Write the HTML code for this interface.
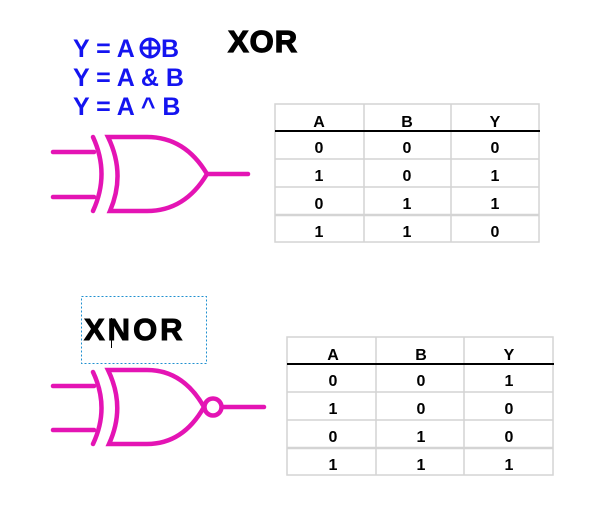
<!DOCTYPE html>
<html><head><meta charset="utf-8"><style>
html,body{margin:0;padding:0;background:#fff;}
svg{display:block;}
text{font-family:"Liberation Sans",Arial,sans-serif;}
</style></head><body>
<svg width="611" height="513" viewBox="0 0 611 513" xmlns="http://www.w3.org/2000/svg">
<g fill="#1414f0" font-weight="bold" font-size="25">
<text x="73" y="57">Y = A</text>
<circle cx="150" cy="48" r="9" fill="none" stroke="#1414f0" stroke-width="3"/>
<line x1="142" y1="48" x2="158" y2="48" stroke="#1414f0" stroke-width="3"/>
<line x1="150" y1="40" x2="150" y2="56" stroke="#1414f0" stroke-width="3"/>
<text x="161" y="57">B</text>
<text x="73" y="86">Y = A &amp; B</text>
<text x="73" y="115">Y = A ^ B</text>
</g>
<text x="228" y="52" font-size="31" font-weight="900" fill="#000" stroke="#000" stroke-width="1.2" letter-spacing="1">XOR</text>

<g fill="none" stroke="#e414b4" stroke-width="4.5" stroke-linecap="round">
<line x1="53" y1="152" x2="94" y2="152"/>
<line x1="53" y1="197" x2="94" y2="197"/>
<path d="M93 137 Q110 174 93 211"/>
<path d="M108 137 L147 137 Q185 137 207 174 Q185 211 147 211 L110 211 Q126 174 108 137 Z"/>
<line x1="207" y1="174" x2="248" y2="174"/>

<line x1="53" y1="386" x2="94" y2="386"/>
<line x1="53" y1="430" x2="94" y2="430"/>
<path d="M93 372 Q110 408 93 444"/>
<path d="M108 370 L147 370 Q183 370 204 407 Q183 444 147 444 L109 444 Q126 407 108 370 Z"/>
<circle cx="213" cy="407" r="8.5"/>
<line x1="222" y1="407" x2="264" y2="407"/>
</g>

<rect x="81.5" y="296.5" width="125" height="67" fill="none" stroke="#2090d0" stroke-width="1" stroke-dasharray="2,2"/>
<text x="84" y="340" font-size="31" font-weight="900" fill="#000" stroke="#000" stroke-width="1" letter-spacing="3">XNOR</text>
<line x1="111.5" y1="318" x2="111.5" y2="348" stroke="#000" stroke-width="1"/>

<g stroke="#d4d4d4" stroke-width="1.5" fill="none">
<rect x="275" y="104" width="264" height="138"/>
<line x1="364" y1="104" x2="364" y2="242"/>
<line x1="451" y1="104" x2="451" y2="242"/>
<line x1="275" y1="159" x2="539" y2="159"/>
<line x1="275" y1="187" x2="539" y2="187"/>
<line x1="275" y1="215" x2="539" y2="215" stroke-width="2.5"/>
<rect x="287" y="337" width="266" height="138"/>
<line x1="376" y1="337" x2="376" y2="475"/>
<line x1="464" y1="337" x2="464" y2="475"/>
<line x1="287" y1="392" x2="553" y2="392"/>
<line x1="287" y1="420" x2="553" y2="420"/>
<line x1="287" y1="448" x2="553" y2="448" stroke-width="2.5"/>
</g>
<line x1="275" y1="131" x2="540" y2="131" stroke="#000" stroke-width="2"/>
<line x1="287" y1="364" x2="554" y2="364" stroke="#000" stroke-width="2"/>

<g font-size="16" font-weight="bold" fill="#000" text-anchor="middle">
<text x="319" y="127">A</text><text x="407" y="127">B</text><text x="495" y="127">Y</text>
<text x="319" y="153">0</text><text x="407" y="153">0</text><text x="495" y="153">0</text>
<text x="319" y="181">1</text><text x="407" y="181">0</text><text x="495" y="181">1</text>
<text x="319" y="209">0</text><text x="407" y="209">1</text><text x="495" y="209">1</text>
<text x="319" y="237">1</text><text x="407" y="237">1</text><text x="495" y="237">0</text>

<text x="333" y="360">A</text><text x="421" y="360">B</text><text x="509" y="360">Y</text>
<text x="333" y="386">0</text><text x="421" y="386">0</text><text x="509" y="386">1</text>
<text x="333" y="414">1</text><text x="421" y="414">0</text><text x="509" y="414">0</text>
<text x="333" y="442">0</text><text x="421" y="442">1</text><text x="509" y="442">0</text>
<text x="333" y="470">1</text><text x="421" y="470">1</text><text x="509" y="470">1</text>
</g>
</svg>
</body></html>
